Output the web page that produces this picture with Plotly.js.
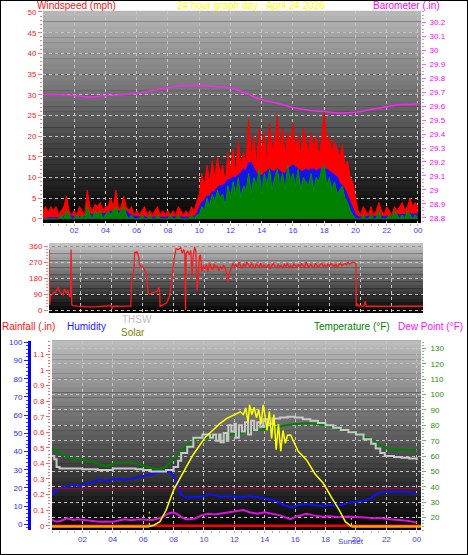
<!DOCTYPE html>
<html><head><meta charset="utf-8">
<script src="https://cdn.plot.ly/plotly-3.0.1.min.js"></script>
<style>html,body{margin:0;padding:0;background:#fff}#chart{width:468px;height:555px}</style>
</head><body><div id="chart"></div>
<script>
// ---------- DATA ----------
// wind (10-minute samples, 00:00 .. 24:00)
const windGust = [
 2,3,1.5,3,2,3, 1,2,3,5.5,2,1, 2,1,3,2,1,7, 3,2,3.5,3,4,2, 3,3,5,3,7,2.5, 3,5.5,3,2,3,1,
 2,1,2,3,1,2, 1,2,3,1,2,1, 2,1,2,1,3,2, 1,2,1,3,2,4, 6,11,8,13,9,14, 10,15,11,13,9,16,
 12,17,11,19,13,16, 14,24,15,20,13,22, 16,21,14,23,17,19, 25,16,22,15,21,18, 23,17,20,15,22,19, 16,21,17,20,15,19,
 26,18,20,16,19,17, 15,18,13,14,10,9, 5,2,1,3,2,1, 3,1,2,4,2,1, 3,2,1,3,2,3, 4,2,3,5,3,4, 3];
const windAvg = [
 0,0,0.2,0.3,0.2,0.3, 0.2,0.4,0.6,1,0.8,0.5, 0.4,0.3,0.5,0.6,0.5,1.2, 1.2,1,1.2,1.1,1.4,1.2, 1.3,1.5,1.8,1.8,2,1.8, 1.8,2,1.8,1.2,1,0.6,
 0.5,0.4,0.4,0.5,0.3,0.4, 0.3,0.4,0.5,0.3,0.4,0.3, 0.4,0.3,0.5,0.3,0.6,0.5, 0.3,0.4,0.3,0.6,0.5,1.2, 2.5,4,4.5,5.5,5.5,6.5, 6.5,7.5,8,8,8.5,9.5,
 9.5,10,10,10.5,11,12, 11.5,13.5,13.5,12,11,10.5, 10.5,11,11.5,12,11.5,11.5, 12,11.5,11,11,12,12.5, 13,12.5,12,11.5,11.5,12, 11.5,12,12,11.5,12,12,
 12,12,11.5,11,10.5,10, 8.5,8,7,5.5,4,2.5, 1,0.5,0.4,0.6,0.5,0.6, 0.8,0.6,0.5,0.7,0.6,0.5, 0.6,0.7,0.6,0.8,0.9,1, 1.1,1,1.2,1.3,1.1,1.2, 1.2];
const windSpeed = [
 0,0,0,0,0,0, 0,1,0,2,1,0, 0,1,0,1,0,3, 1,0,2,1,2,0, 1,2,1,2,3,1, 2,3,1,0,1,0,
 0,0,1,0,0,1, 0,0,1,0,0,0, 0,1,0,0,1,0, 0,0,0,1,0,1, 1,3,2,5,3,6, 4,7,5,6,3,8,
 5,9,6,10,5,8, 7,11,6,10,8,12, 6,11,8,12,7,10, 12,8,11,7,13,9, 11,8,12,7,10,9, 8,11,7,10,9,12,
 13,8,10,7,9,6, 7,8,5,4,2,1, 0,0,0,1,0,0, 1,0,0,2,0,0, 0,1,0,2,1,0, 1,0,2,1,0,1, 0];
// barometer (hourly)
const baroH = [0,1,2,3,4,5,6,7,8,9,10,11,12,13,14,15,16,17,18,19,20,21,22,23,24];
const baroV = [29.68,29.68,29.675,29.665,29.675,29.68,29.69,29.71,29.73,29.745,29.745,29.74,29.73,29.69,29.645,29.62,29.59,29.57,29.56,29.55,29.555,29.575,29.595,29.61,29.615];
// wind direction
const dirH1 = [0,0.05,0.1,0.2,0.3,0.4,0.5,0.6,0.7,0.8,0.9,1.0,1.1,1.2,1.3,1.38,1.42,1.46,1.55,1.8,2.0,2.5,3.0,3.5,3.9,4.0,4.05,4.1,4.3,4.6,5.0,5.25,5.3,5.38,5.45,5.5,5.6,5.65,5.75,5.8,5.9,6.0,6.1,6.25,6.35,6.45,6.6,6.8,6.95,7.05,7.1,7.13,7.25,7.4,7.55,7.65,7.75,7.85,7.95,8.05,8.15,8.3,8.45,8.55,8.65,8.72,8.76,8.8,8.9,9.0,9.1,9.18,9.25,9.35,9.42,9.5,9.58,9.65,9.72,9.8,9.9];
const dirV1 = [340,30,80,85,100,95,115,125,100,90,85,120,95,110,80,75,340,30,25,22,20,18,18,20,22,25,5,20,22,20,22,22,170,190,230,328,320,330,300,260,240,245,230,200,100,90,95,100,105,130,100,20,25,35,40,60,85,150,230,300,345,340,350,320,340,310,0,320,330,310,335,190,300,355,330,110,200,300,310,215,250];
const dirDayStart = 10.0, dirDayStep = 0.1;
const dirV2 = [230,255,215,262,240,225,258,235,248,220, 245,230,252,238,200,160,215,240,262,245,
 255,240,268,248,235,260,245,270,250,238, 262,245,235,258,248,240,265,238,252,245,
 240,258,232,250,262,245,238,255,242,250, 238,255,245,262,240,250,236,258,248,242,
 256,240,262,248,238,270,250,242,258,245, 238,262,248,240,255,262,245,252,240,258,
 248,262,252,245,258,240,255,262,250,258, 262,255,268,258,262,270,265,262];
const dirH3 = [19.72,19.8,19.9,20.0,20.1,20.2,20.3,20.35,20.5,21,21.5,22,22.5,23,23.5,24];
const dirV3 = [20,35,20,25,18,22,50,20,22,20,19,20,21,20,22,21];
// temperatures (°F)
const tempH = [0,0.5,1.0,1.4,1.75,2.2,2.7,3.2,3.6,4.2,4.8,5.6,6.3,6.7,7.1,7.5,8.0,8.5,8.9,9.3,9.7,10.4,11.05,11.8,12.4,13.0,13.7,14.1,15.0,15.7,16.75,17.3,17.85,18.4,18.9,19.5,20.05,20.6,21.1,21.5,21.8,22.3,22.7,23.3,24];
const tempV = [65,62.5,59.5,57.5,58.6,57.5,56,54.5,53.6,55.7,55.9,55.3,52.7,52,51.4,53,58.6,63,67.2,70,71.6,72,72.5,74,75,76.5,77,78,79.5,80.6,81.3,81,80.2,79,77.4,76,74.8,72.5,70.5,67.5,65.5,64.5,64.4,64,63.5];
const thswH = [0,0.15,0.3,0.5,1,1.5,2,2.5,3,3.5,4,4.5,5,5.5,6,6.5,7,7.5,8,8.3,8.5,8.7,8.9,9.1,9.3,9.6,9.9,10.2,10.4,10.6,10.8,11.0,11.1,11.3,11.5,11.6,11.8,12.0,12.1,12.3,12.5,12.7,12.9,13.1,13.3,13.5,13.7,13.9,14.2,14.5,15,15.5,16,16.5,17,17.5,18,18.5,19,19.5,20,20.5,21,21.3,21.6,21.9,22.5,23,23.5,24];
const thswV = [60,58,53,52,52,52,51.5,51.5,51,51,52,52,52,51.5,51,50,50,51,53,57,62,62,66,66,72,72,74,74,72,74,70,74,69,75,70,80,76,81,72,80,76,82,74,83,77,82,79,84,81,84.5,85,85.5,85,84,83,81.5,80,78.5,77,75.5,74,71,68,65,62,60,59.5,59,58.5,57.5];
const dewH = [0,0.3,0.6,1.0,1.4,1.7,2.0,2.5,3.1,3.5,4.0,4.4,4.8,5.2,5.7,6.2,6.6,7.0,7.3,7.6,7.8,8.0,8.2,8.5,8.8,9.05,9.4,9.9,10.3,10.7,11.05,11.5,11.9,12.3,12.6,13.0,13.5,14.0,14.5,15.0,15.4,15.7,16.0,16.4,16.75,17.2,17.85,18.3,18.9,19.5,20.05,20.6,21.1,21.6,22.2,22.8,23.4,24];
const dewV = [18.5,17.4,18,19.6,18.5,19,18.6,18,17.4,17.6,17.4,18.2,19,18.4,19,18.6,18.5,19.5,20.6,22.5,23.2,23.2,22.6,20.5,19,19,19.5,21.7,22.5,22,22.6,23,23.9,24.5,25,23.5,22.6,23.5,22.6,21.5,20,19,20.5,21.8,22.6,21.5,20.6,21,20.3,20.8,20.6,20.2,19.6,19.8,19,18.5,18,16.8];
const refH = [0, 24.3], refV = [39, 39];
// humidity (%)
const humH = [0,0.2,0.45,0.9,1.4,1.8,2.25,2.7,3.1,3.5,4.0,4.4,4.8,5.2,5.7,6.2,6.6,7.0,7.3,7.75,8.0,8.2,8.35,8.5,8.8,9.05,9.5,9.9,10.2,10.4,10.7,11.05,11.5,12.0,12.4,13.0,13.5,14.0,14.5,15.0,15.2,15.5,15.8,16.2,16.75,17.3,17.85,18.3,18.7,19.2,19.6,20.2,20.7,21.0,21.4,22.0,22.6,23.3,23.8,24];
const humV = [16.1,18,19.8,20.5,21.6,21,22.5,23,24.7,24,24.7,25,24.3,25,25.8,26.5,27.6,28.5,28.9,28.9,27,23.4,19.5,16.1,15,14.8,15.2,15.2,16,16.6,16,15.2,15.5,15,14.8,15.5,15.2,14.5,13.4,12,10.6,10,9.3,10.5,11.2,10.5,10.1,10.8,10.1,11,11.9,12.5,13.4,14.5,17,17.9,17.9,17.9,17,16.6];
// rainfall (in)
const rainH = [0, 24.3], rainV = [0, 0];
// solar (W/m2)
const solarH = [6.4,6.7,7.1,7.5,8.0,8.5,8.9,9.3,9.7,10.1,10.6,11.0,11.5,12.0,12.4,12.6,12.75,12.9,13.0,13.15,13.3,13.45,13.6,13.75,13.9,14.0,14.15,14.3,14.45,14.6,14.75,14.9,15.05,15.2,15.35,15.5,15.7,16.2,16.75,17.3,17.85,18.4,18.9,19.3,19.7];
const solarV = [0,8,30,100,228,320,384,450,509,560,603,640,676,700,717,700,740,650,760,700,745,680,730,640,760,700,600,720,550,700,480,640,470,600,520,570,572,470,416,330,270,180,103,30,0];
const nightH = [0, 6.4, null, 19.7, 24.3], nightV = [0, 0, null, 0, 0];
const sunriseH = 6.4, sunsetH = 19.7;
// tick labels
const hourTicks = [2,4,6,8,10,12,14,16,18,20,22,24];
const hourLabels = ['02','04','06','08','10','12','14','16','18','20','22','00'];
const baroTicks = [28.8,28.9,29,29.1,29.2,29.3,29.4,29.5,29.6,29.7,29.8,29.9,30,30.1,30.2];
const rainTicks = [0,0.1,0.2,0.3,0.4,0.5,0.6,0.7,0.8,0.9,1,1.1,1.2];
const dirTicks = [0,90,180,270,360];
const dirLetters = ['N','E','S','W','N'];

// ---------- BUILD ----------
const W = 468, H = 555;
const PX = p => p / W, PY = p => 1 - p / H;
const FONT = 'Liberation Sans, Arial, sans-serif';
const windT = windGust.map((_, i) => i / 6);
const dirH = dirH1.concat(dirV2.map((_, i) => +(dirDayStart + i * dirDayStep).toFixed(2)), dirH3);
const dirV = dirV1.concat(dirV2, dirV3);

function grad(xr, yr, n, top) {
  const s = [];
  for (let i = 0; i < n; i++) {
    const g = Math.round(top * (1 - (i + 0.5) / n));
    s.push({type: 'rect', xref: xr + ' domain', yref: yr + ' domain', x0: 0, x1: 1,
      y0: 1 - (i + 1) / n, y1: 1 - i / n + 0.001, layer: 'below',
      fillcolor: `rgb(${g},${g},${g})`, line: {width: 0}});
  }
  return s;
}
const gridC = '#c4c4c4';
const TS = 8;
const xcommon = {tickmode: 'array', tickvals: hourTicks, ticktext: hourLabels, ticks: '', 
  showgrid: true, gridcolor: gridC, griddash: 'dot', gridwidth: 1, zeroline: false,
  tickfont: {family: FONT, size: TS, color: '#3a3aff'},
  minor: {tickmode: 'array', tickvals: windT.filter((t, i) => i % 3 === 0), ticks: 'outside', ticklen: 2, tickcolor: '#b0b0b0', showgrid: false}};

const traces = [
  {x: windT, y: windGust, xaxis: 'x', yaxis: 'y', mode: 'lines', fill: 'tozeroy', fillcolor: '#ff0000', line: {color: '#ff0000', width: 1}},
  {x: windT, y: windAvg, xaxis: 'x', yaxis: 'y', mode: 'lines', fill: 'tozeroy', fillcolor: '#1414e6', line: {color: '#1414ff', width: 1.5}},
  {x: windT, y: windSpeed, xaxis: 'x', yaxis: 'y', mode: 'lines', fill: 'tozeroy', fillcolor: '#008000', line: {color: '#009000', width: 1}},
  {x: baroH, y: baroV, xaxis: 'x', yaxis: 'y2', mode: 'lines', line: {color: '#ff22ff', width: 1.5, shape: 'spline'}},
  {x: dirH, y: dirV, xaxis: 'x2', yaxis: 'y3', mode: 'lines', line: {color: '#ff1a1a', width: 1.3}},
  {x: humH, y: humV, xaxis: 'x3', yaxis: 'y4', mode: 'lines', line: {color: '#1010ff', width: 2}},
  {x: rainH, y: rainV, xaxis: 'x3', yaxis: 'y5', mode: 'lines', line: {color: '#ff0000', width: 2.5}},
  {x: [sunriseH, sunriseH], y: [0, 0.09], xaxis: 'x3', yaxis: 'y5', mode: 'lines', line: {color: '#ffff00', width: 1, dash: 'dot'}},
  {x: [sunsetH, sunsetH], y: [0, 0.05], xaxis: 'x3', yaxis: 'y5', mode: 'lines', line: {color: '#ffff00', width: 1, dash: 'dot'}},
  {x: refH, y: refV, xaxis: 'x3', yaxis: 'y6', mode: 'lines', line: {color: '#80103a', width: 1.5}},
  {x: tempH, y: tempV, xaxis: 'x3', yaxis: 'y6', mode: 'lines', line: {color: '#008000', width: 2}},
  {x: thswH, y: thswV, xaxis: 'x3', yaxis: 'y6', mode: 'lines', line: {color: '#c8c8c8', width: 2, shape: 'hv'}},
  {x: dewH, y: dewV, xaxis: 'x3', yaxis: 'y6', mode: 'lines', line: {color: '#e010e0', width: 2}},
  {x: solarH, y: solarV, xaxis: 'x3', yaxis: 'y7', mode: 'lines', line: {color: '#ffff00', width: 1.5}},
  {x: nightH, y: nightV, xaxis: 'x3', yaxis: 'y7', mode: 'lines', line: {color: '#ffa000', width: 2.5}}
];
traces.forEach(t => { t.showlegend = false; t.hoverinfo = 'skip'; });

const ann = (text, x, y, color, size) => ({text, x: PX(x), y: PY(y), xref: 'paper', yref: 'paper',
  xanchor: 'center', yanchor: 'middle', showarrow: false, font: {family: FONT, size: size || 10, color}});

const layout = {
  width: W, height: H, margin: {l: 0, r: 0, t: 0, b: 0},
  paper_bgcolor: '#ffffff', plot_bgcolor: '#000000', showlegend: false,
  xaxis: Object.assign({}, xcommon, {domain: [PX(43), PX(421)], anchor: 'y', range: [0, 24.2], ticklabelstandoff: 1}),
  yaxis: {domain: [PY(223), PY(11)], anchor: 'x', range: [-0.97, 50.24], tickmode: 'linear', tick0: 0, dtick: 5,
    ticks: 'outside', ticklen: 4, tickcolor: '#ff7070', tickfont: {family: FONT, size: TS, color: '#ff2020'},
    showgrid: true, gridcolor: gridC, griddash: 'dot', zeroline: false,
    minor: {dtick: 1, tick0: 0, ticks: 'outside', ticklen: 2, tickcolor: '#ff8080', showgrid: false}},
  yaxis2: {overlaying: 'y', side: 'right', anchor: 'x', range: [28.764, 30.279], tickmode: 'array', tickvals: baroTicks,
    ticktext: baroTicks.map(v => String(+v.toFixed(1))), ticks: 'outside', ticklen: 4, tickcolor: '#ff60ff',
    tickfont: {family: FONT, size: TS, color: '#ff00ff'}, showgrid: false, zeroline: false, ticklabelstandoff: 2,
    minor: {dtick: 0.025, tick0: 28.8, ticks: 'outside', ticklen: 2, tickcolor: '#ff80ff', showgrid: false}},
  xaxis2: Object.assign({}, xcommon, {domain: [PX(49), PX(423)], anchor: 'y3', range: [0, 24], showticklabels: false, minor: {ticks: ''}}),
  yaxis3: {domain: [PY(313), PY(243)], anchor: 'x2', range: [-16.9, 376.9], tickmode: 'array', tickvals: dirTicks,
    ticks: 'outside', ticklen: 4, tickcolor: '#ff7070', tickfont: {family: FONT, size: TS, color: '#ff2020'},
    showgrid: true, gridcolor: gridC, griddash: 'dot', zeroline: false,
    minor: {dtick: 18, tick0: 0, ticks: 'outside', ticklen: 2, tickcolor: '#ff8080', showgrid: false}},
  yaxis8: {overlaying: 'y3', side: 'right', anchor: 'x2', range: [-16.9, 376.9], tickmode: 'array', tickvals: dirTicks,
    ticktext: dirLetters, ticks: '', ticklabelstandoff: 13, tickfont: {family: FONT, size: 13, color: '#ff1a1a'}, showgrid: false, zeroline: false},
  xaxis3: Object.assign({}, xcommon, {domain: [PX(52), PX(421)], anchor: 'y4', range: [0, 24.28], ticklabelstandoff: 3}),
  yaxis4: {domain: [PY(530), PY(340.5)], anchor: 'free', position: PX(29), side: 'left', range: [-3.13, 101],
    tickmode: 'linear', tick0: 0, dtick: 10, ticks: 'outside', ticklen: 4, tickcolor: '#2020ff',
    tickfont: {family: FONT, size: TS, color: '#2a2aff'}, showline: true, linecolor: '#0000ff', linewidth: 2.5,
    showgrid: false, zeroline: false,
    minor: {dtick: 2, tick0: 0, ticks: 'outside', ticklen: 2, tickcolor: '#4040ff', showgrid: false}},
  yaxis5: {overlaying: 'y4', anchor: 'free', position: PX(50), side: 'left', range: [-0.0276, 1.1895],
    tickmode: 'array', tickvals: rainTicks, ticktext: rainTicks.map(v => String(+v.toFixed(1))),
    ticks: 'outside', ticklen: 4, tickcolor: '#ff6060', tickfont: {family: FONT, size: TS, color: '#ff2020'},
    showgrid: false, zeroline: false,
    minor: {dtick: 0.02, tick0: 0, ticks: 'outside', ticklen: 2, tickcolor: '#ff7070', showgrid: false}},
  yaxis6: {overlaying: 'y4', side: 'right', anchor: 'x3', range: [12.0, 135.1], tickmode: 'linear', tick0: 0, dtick: 10,
    ticks: 'outside', ticklen: 4, tickcolor: '#70b070', tickfont: {family: FONT, size: TS, color: '#2e8a00'},
    showgrid: true, gridcolor: gridC, griddash: 'dot', zeroline: false, ticklabelstandoff: 3,
    minor: {dtick: 2, tick0: 0, ticks: 'outside', ticklen: 2, tickcolor: '#80c080', showgrid: false}},
  yaxis7: {overlaying: 'y4', anchor: 'x3', range: [-21.9, 1162.5], visible: false},
  shapes: [].concat(grad('x', 'y', 40, 185), grad('x2', 'y3', 20, 200), grad('x3', 'y4', 40, 190),
    [{type: 'rect', xref: 'paper', yref: 'paper', x0: 0, x1: 1, y0: 0, y1: 1, line: {color: '#000', width: 2}}]),
  annotations: [
    ann('Windspeed (mph)', 76, 5, '#ff1010'),
    ann('24 hour graph day : April 24 2026', 251, 5, '#ffff00'),
    ann('Barometer (.in)', 406, 5, '#ff00ff'),
    ann('Rainfall (.in)', 28, 326, '#ff1010'),
    ann('Humidity', 86, 326, '#1a1aff'),
    ann('THSW', 137, 319, '#c0c0c0'),
    ann('Solar', 132.5, 332, '#808000'),
    ann('Temperature (°F)', 352, 326, '#008000'),
    ann('Dew Point (°F)', 430, 326, '#ff10ff'),
    {text: 'Sunset', x: sunsetH, xref: 'x3', y: PY(541), yref: 'paper', xanchor: 'center', yanchor: 'middle',
      showarrow: false, font: {family: FONT, size: TS, color: '#3a3aff'}}
  ]
};
Plotly.newPlot('chart', traces, layout, {staticPlot: true, displayModeBar: false});
</script></body></html>
